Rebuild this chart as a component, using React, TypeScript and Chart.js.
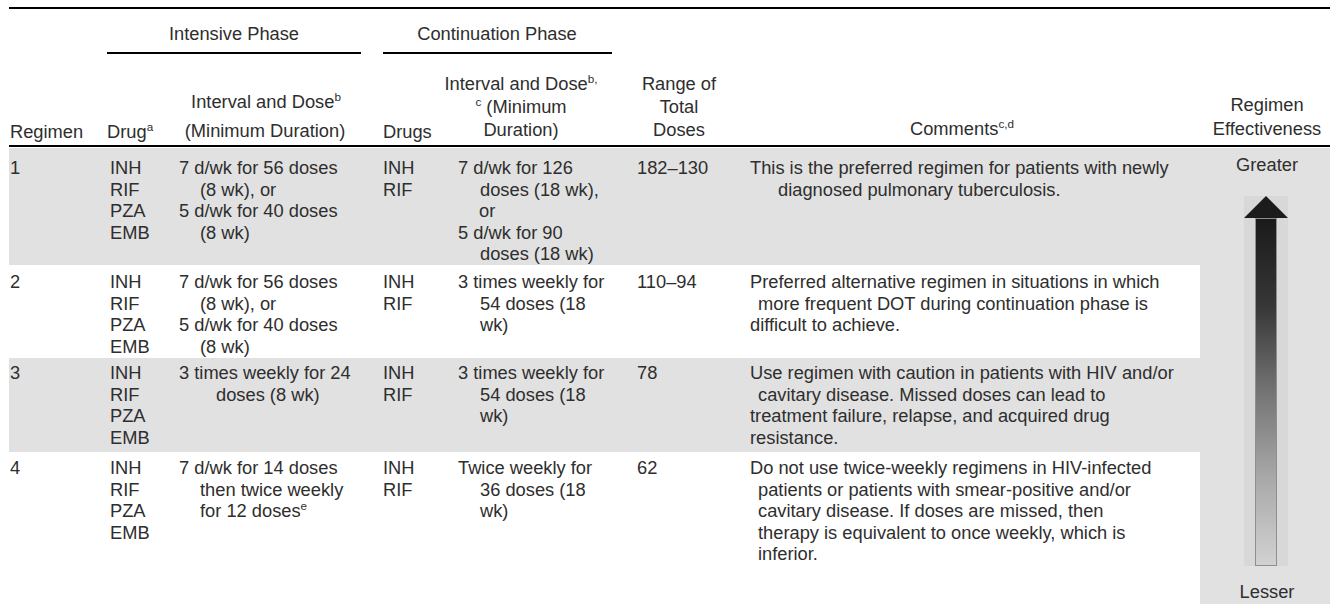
import React, { useEffect, useRef } from "react";
import { Chart, registerables } from "chart.js";

Chart.register(...registerables);

// ---------------- data ----------------
const PHASE_HEADERS = ["Intensive Phase", "Continuation Phase"];
const COLUMN_HEADERS = {
  regimen: ["Regimen"],
  drug: ["Drug^a"],
  intDose: ["Interval and Dose^b", "(Minimum Duration)"],
  contDrug: ["Drugs"],
  contDose: ["Interval and Dose^b,", "^c (Minimum", "Duration)"],
  total: ["Range of", "Total", "Doses"],
  comments: ["Comments^c,d"],
  effect: ["Regimen", "Effectiveness"],
};

const REGIMENS = ["1", "2", "3", "4"];
const INTENSIVE_DRUGS = [
  ["INH", "RIF", "PZA", "EMB"],
  ["INH", "RIF", "PZA", "EMB"],
  ["INH", "RIF", "PZA", "EMB"],
  ["INH", "RIF", "PZA", "EMB"],
];
const INTENSIVE_DOSE = [
  ["7 d/wk for 56 doses", "(8 wk), or", "5 d/wk for 40 doses", "(8 wk)"],
  ["7 d/wk for 56 doses", "(8 wk), or", "5 d/wk for 40 doses", "(8 wk)"],
  ["3 times weekly for 24", "doses (8 wk)"],
  ["7 d/wk for 14 doses", "then twice weekly", "for 12 doses^e"],
];
const CONTINUATION_DRUGS = [
  ["INH", "RIF"],
  ["INH", "RIF"],
  ["INH", "RIF"],
  ["INH", "RIF"],
];
const CONTINUATION_DOSE = [
  ["7 d/wk for 126", "doses (18 wk),", "or", "5 d/wk for 90", "doses (18 wk)"],
  ["3 times weekly for", "54 doses (18", "wk)"],
  ["3 times weekly for", "54 doses (18", "wk)"],
  ["Twice weekly for", "36 doses (18", "wk)"],
];
const TOTAL_DOSES = ["182–130", "110–94", "78", "62"];
const COMMENTS = [
  ["This is the preferred regimen for patients with newly", "diagnosed pulmonary tuberculosis."],
  [
    "Preferred alternative regimen in situations in which",
    "more frequent DOT during continuation phase is",
    "difficult to achieve.",
  ],
  [
    "Use regimen with caution in patients with HIV and/or",
    "cavitary disease. Missed doses can lead to",
    "treatment failure, relapse, and acquired drug",
    "resistance.",
  ],
  [
    "Do not use twice-weekly regimens in HIV-infected",
    "patients or patients with smear-positive and/or",
    "cavitary disease. If doses are missed, then",
    "therapy is equivalent to once weekly, which is",
    "inferior.",
  ],
];
const EFFECTIVENESS_LABELS = ["Greater", "Lesser"];
const EFFECTIVENESS_RANGE = [0, 1];

// ---------------- layout ----------------
const FONT = "'Liberation Sans', Arial, Helvetica, sans-serif";
const FS = 18.3;
const LH = 21.5;
const TEXT = "#2e2e2e";
const GRAY = "#e1e1e1";

const ROW_TOP = [148, 265, 358, 452];
const ROW_BOTTOM = [265, 358, 452, 604];
const ROW_SHADED = [true, false, true, false];
const FIRST_LINE = [168, 282, 373, 468];

const COL = { regimen: 10, drug: 110, intDose: 179, contDrug: 383, contDose: 458, total: 637, comments: 750 };
const INT_INDENT = [[0, 21, 0, 21], [0, 21, 0, 21], [0, 37], [0, 21, 21]];
const CONT_INDENT = [[0, 22, 21, 0, 22], [0, 22, 22], [0, 22, 22], [0, 22, 22]];
const COMMENT_INDENT = [[0, 28], [0, 8, 0], [0, 8, 0, 0], [0, 8, 8, 8, 8]];

function Rich({ s }: { s: string }) {
  const parts = s.split("^");
  const first = parts[0];
  const rest = parts.slice(1);
  return (
    <>
      {first}
      {rest.map((p, i) => {
        const m = p.match(/^(\S+)(.*)$/);
        const sup = m ? m[1] : p;
        const tail = m ? m[2] : "";
        return (
          <React.Fragment key={i}>
            <sup style={{ fontSize: "0.64em", lineHeight: 0, verticalAlign: "0.6em" }}>{sup}</sup>
            {tail}
          </React.Fragment>
        );
      })}
    </>
  );
}

function Line({ x, cy, text, center }: { x: number; cy: number; text: string; center?: boolean }) {
  const style: React.CSSProperties = {
    position: "absolute",
    top: cy - LH / 2,
    height: LH,
    lineHeight: LH + "px",
    whiteSpace: "nowrap",
  };
  if (center) {
    style.left = x - 200;
    style.width = 400;
    style.textAlign = "center";
  } else {
    style.left = x;
  }
  return (
    <div style={style}>
      <Rich s={text} />
    </div>
  );
}

function Rule({ x1, x2, y, h = 2 }: { x1: number; x2: number; y: number; h?: number }) {
  return <div style={{ position: "absolute", left: x1, top: y, width: x2 - x1, height: h, background: "#000" }} />;
}

function Arrow() {
  const ref = useRef<HTMLCanvasElement | null>(null);
  useEffect(() => {
    if (!ref.current) return;
    const band = {
      id: "band",
      beforeDraw(chart: any) {
        const c = chart.ctx;
        c.save();
        c.fillStyle = "#d8d8d8";
        c.fillRect(0, 0, chart.width, chart.height);
        c.restore();
      },
    };
    const head = {
      id: "head",
      afterDatasetsDraw(chart: any) {
        const bar = chart.getDatasetMeta(0).data[0];
        if (!bar) return;
        const c = chart.ctx;
        const half = bar.width;
        c.save();
        c.fillStyle = "#1c1c1c";
        c.beginPath();
        c.moveTo(bar.x - half, bar.y);
        c.lineTo(bar.x + half, bar.y);
        c.lineTo(bar.x, 0);
        c.closePath();
        c.fill();
        c.restore();
      },
    };
    const chart = new Chart(ref.current, {
      type: "bar",
      data: {
        labels: ["Regimen Effectiveness"],
        datasets: [
          {
            data: [EFFECTIVENESS_RANGE as any],
            backgroundColor: (ctx: any) => {
              const area = ctx.chart.chartArea;
              if (!area) return "#777";
              const g = ctx.chart.ctx.createLinearGradient(0, area.top, 0, area.bottom);
              g.addColorStop(0, "#1a1a1a");
              g.addColorStop(0.25, "#363636");
              g.addColorStop(0.5, "#747474");
              g.addColorStop(0.75, "#a9a9a9");
              g.addColorStop(1, "#d2d2d2");
              return g;
            },
            borderColor: "#8e8e8e",
            borderWidth: 1,
            borderSkipped: false,
            barPercentage: 0.5,
            categoryPercentage: 1,
          },
        ],
      },
      options: {
        animation: false,
        responsive: false,
        devicePixelRatio: 1,
        layout: { padding: { top: 22, left: 0, right: 0, bottom: 0 } },
        plugins: { legend: { display: false }, tooltip: { enabled: false } },
        scales: {
          x: { display: false },
          y: { display: false, min: 0, max: 1 },
        },
      },
      plugins: [band, head],
    });
    return () => chart.destroy();
  }, []);
  return (
    <div style={{ position: "absolute", left: 1244, top: 196, width: 44, height: 370 }}>
      <canvas ref={ref} width={44} height={370} style={{ display: "block" }} />
    </div>
  );
}

export default function App() {
  const lines: React.ReactNode[] = [];
  let k = 0;
  const add = (x: number, cy: number, t: string, center = false) =>
    lines.push(<Line key={k++} x={x} cy={cy} text={t} center={center} />);

  // header
  add(234, 34, PHASE_HEADERS[0], true);
  add(497, 34, PHASE_HEADERS[1], true);
  add(COL.regimen, 132, COLUMN_HEADERS.regimen[0]);
  add(107, 132, COLUMN_HEADERS.drug[0]);
  add(266, 102, COLUMN_HEADERS.intDose[0], true);
  add(265, 131, COLUMN_HEADERS.intDose[1], true);
  add(COL.contDrug, 132, COLUMN_HEADERS.contDrug[0]);
  COLUMN_HEADERS.contDose.forEach((t, i) => add(521, 84 + i * 23, t, true));
  COLUMN_HEADERS.total.forEach((t, i) => add(679, 84 + i * 23, t, true));
  add(962, 129, COLUMN_HEADERS.comments[0], true);
  COLUMN_HEADERS.effect.forEach((t, i) => add(1267, 105 + i * 23.5, t, true));

  // body
  REGIMENS.forEach((r, ri) => {
    const y0 = FIRST_LINE[ri];
    add(COL.regimen, y0, r);
    INTENSIVE_DRUGS[ri].forEach((t, i) => add(COL.drug, y0 + i * LH, t));
    INTENSIVE_DOSE[ri].forEach((t, i) => add(COL.intDose + INT_INDENT[ri][i], y0 + i * LH, t));
    CONTINUATION_DRUGS[ri].forEach((t, i) => add(COL.contDrug, y0 + i * LH, t));
    CONTINUATION_DOSE[ri].forEach((t, i) => add(COL.contDose + CONT_INDENT[ri][i], y0 + i * LH, t));
    add(COL.total, y0, TOTAL_DOSES[ri]);
    COMMENTS[ri].forEach((t, i) => add(COL.comments + COMMENT_INDENT[ri][i], y0 + i * LH, t));
  });

  add(1267, 165, EFFECTIVENESS_LABELS[0], true);
  add(1267, 592, EFFECTIVENESS_LABELS[1], true);

  return (
    <div
      style={{
        position: "absolute",
        left: 0,
        top: 0,
        width: 1330,
        height: 604,
        overflow: "hidden",
        background: "#fff",
        fontFamily: FONT,
        fontSize: FS,
        color: TEXT,
      }}
    >
      {ROW_TOP.map((t, i) =>
        ROW_SHADED[i] ? (
          <div
            key={"bg" + i}
            style={{ position: "absolute", left: 9, top: t, width: 1200 - 9, height: ROW_BOTTOM[i] - t, background: GRAY }}
          />
        ) : null
      )}
      <div style={{ position: "absolute", left: 1200, top: 148, width: 130, height: 604 - 148, background: GRAY }} />
      <Rule x1={9} x2={1330} y={7} />
      <Rule x1={107} x2={361} y={52} />
      <Rule x1={383} x2={612} y={52} />
      <Rule x1={9} x2={1330} y={145} />
      <Arrow />
      {lines}
    </div>
  );
}
